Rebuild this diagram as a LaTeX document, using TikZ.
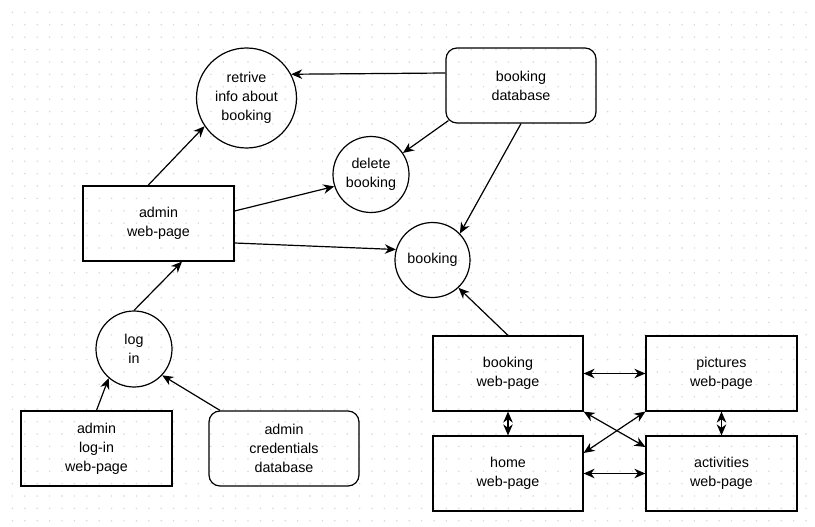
\documentclass[tikz,border=0pt]{standalone}
\usepackage{fontspec}
\setmainfont{Liberation Sans}
\usetikzlibrary{arrows.meta,calc}
\begin{document}
\begin{tikzpicture}[x=1pt,y=-1pt,
  every node/.style={font=\fontsize{14.3}{19}\selectfont, align=center, inner sep=0pt},
  proc/.style={draw, circle, line width=1.2pt},
  box/.style={draw, rectangle, line width=1.2pt, minimum width=151pt, minimum height=75pt},
  store/.style={draw, rectangle, rounded corners=11pt, line width=1.2pt, minimum width=150pt, minimum height=75pt},
  tip/.tip={Stealth[length=11pt,width=9.5pt,inset=3.5pt]},
  link/.style={line width=1.2pt, -tip},
  both/.style={line width=1.2pt, tip-tip},
  griddot/.style={fill=black!16, draw=none}]
\useasboundingbox (0,0) rectangle (815,527);
\fill[white] (0,0) rectangle (815,527);
\foreach \i in {1,...,65} {
  \foreach \j in {1,...,42} {
    \fill[griddot] (\i*12.4,\j*12.4) circle (0.8);
  }
}
% nodes
\node[proc, minimum size=100pt] (retr) at (246.5,98) {retrive\\info about\\booking};
\node[proc, minimum size=76pt] (del) at (371,174.5) {delete\\booking};
\node[store] (db) at (521,85.5) {booking\\database};
\node[proc, minimum size=75pt] (book) at (432.5,260) {booking};
\node[box] (admin) at (158.5,223.5) {admin\\web-page};
\node[proc, minimum size=76pt] (log) at (134,349) {log\\in};
\node[box] (alogin) at (96.5,448.5) {admin\\log-in\\web-page};
\node[store] (cred) at (284,448.5) {admin\\credentials\\database};
\node[box, minimum width=150pt] (bwp) at (508,373.5) {booking\\web-page};
\node[box] (pic) at (721.5,373.5) {pictures\\web-page};
\node[box, minimum width=150pt] (home) at (508,473.5) {home\\web-page};
\node[box] (act) at (721.5,473.5) {activities\\web-page};
% connectors
\draw[link] (148,0 |- admin.north) -- (retr.214);
\draw[link] (db.west |- 0,73) -- (retr.28);
\draw[link] ($(db.south west)+(3,-3)$) -- (del.34);
\draw[link] (db.south) -- (book.44);
\draw[link] (admin.east |- 0,211) -- (del.198);
\draw[link] (admin.east |- 0,243) -- (book.164);
\draw[link] (log.north) -- (182,0 |- admin.south);
\draw[link] (alogin.north) -- (log.229);
\draw[link] (220,0 |- cred.north) -- (log.317);
\draw[link] (bwp.north) -- (book.313);
\draw[both] (bwp.east) -- (pic.west);
\draw[both] (bwp.south) -- (home.north);
\draw[both] (pic.south) -- (act.north);
\draw[both] (home.east) -- (act.west);
\draw[both] (bwp.south east) -- (act.west |- 0,447);
\draw[both] (pic.south west) -- (home.east |- 0,453);
\end{tikzpicture}
\end{document}
